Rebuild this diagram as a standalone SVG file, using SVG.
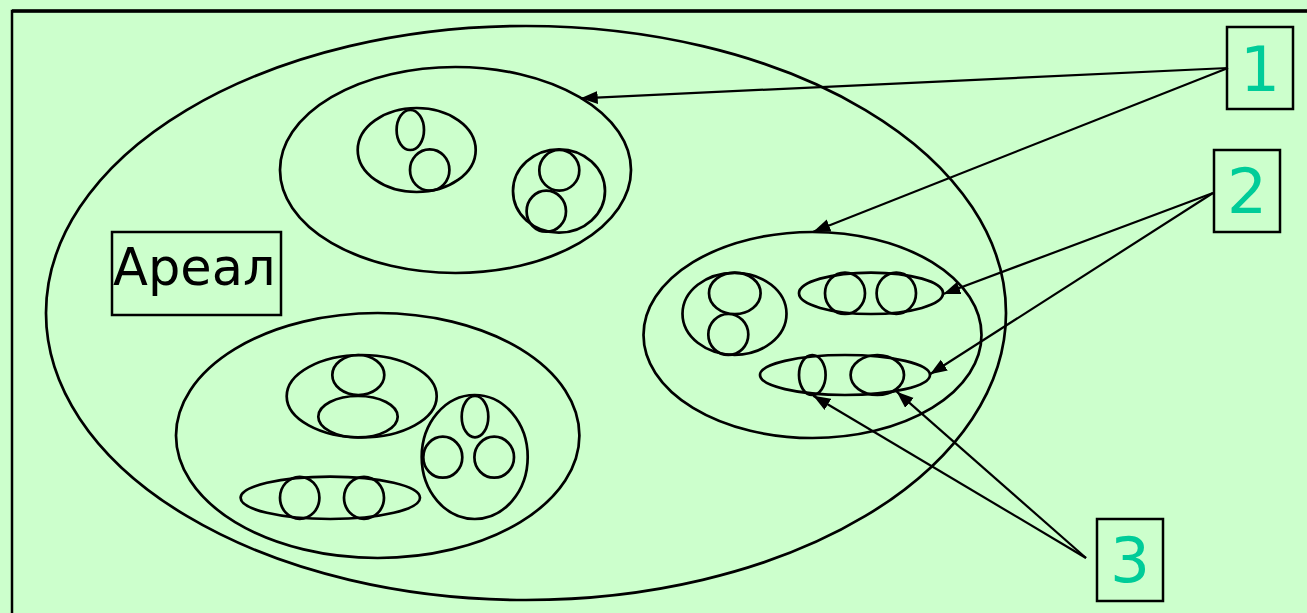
<svg xmlns="http://www.w3.org/2000/svg" width="1307" height="613" viewBox="0 0 1307 613">
<style>
.s{fill:none;stroke:#000;stroke-width:2.7}
.c{fill:none;stroke:#000;stroke-width:2.2}
.lbl{fill:#00CC99;font-family:"DejaVu Sans",sans-serif;font-size:63px;text-anchor:middle}
.box{fill:none;stroke:#000;stroke-width:2.5}
</style>
<defs>
<marker id="ah" markerUnits="userSpaceOnUse" markerWidth="20" markerHeight="14" refX="17" refY="6.5" orient="auto">
<path d="M0,0 L17,6.5 L0,13 Z" fill="#000"/>
</marker>
</defs>
<rect x="0" y="0" width="1307" height="613" fill="#CCFFCC"/>
<rect x="12" y="11" width="1320" height="620" fill="none" stroke="#000" stroke-width="2.5"/>
<line x1="12" y1="11" x2="1307" y2="11" stroke="#000" stroke-width="3.5"/>
<g id="areal-ellipse">
<ellipse class="s" cx="526" cy="313" rx="480" ry="287"/>
</g>
<g id="areal-label">
<rect class="box" x="112" y="232" width="169" height="83"/>
<text x="113" y="285" font-family="DejaVu Sans,sans-serif" font-size="51" fill="#000">Ареал</text>
</g>
<g id="pop-top">
<ellipse class="s" cx="455.5" cy="170" rx="175.5" ry="103"/>
<ellipse class="s" cx="416.7" cy="150" rx="59" ry="42"/>
<ellipse class="s" cx="410.3" cy="130" rx="13.7" ry="20"/>
<ellipse class="s" cx="429.7" cy="170" rx="19.7" ry="20.7"/>
<ellipse class="s" cx="559" cy="191" rx="46" ry="41.7"/>
<ellipse class="s" cx="559.3" cy="170.3" rx="20" ry="20.3"/>
<ellipse class="s" cx="546.3" cy="211.2" rx="19.7" ry="20.5"/>
</g>
<g id="pop-right">
<ellipse class="s" cx="812.5" cy="335" rx="169" ry="103"/>
<ellipse class="s" cx="734.5" cy="313.8" rx="52" ry="41"/>
<ellipse class="s" cx="734.8" cy="293.3" rx="25.8" ry="20.7"/>
<ellipse class="s" cx="728.3" cy="334.5" rx="20" ry="20.5"/>
<ellipse class="s" cx="871" cy="293.3" rx="72" ry="20.7"/>
<ellipse class="s" cx="845" cy="293.3" rx="20" ry="20.7"/>
<ellipse class="s" cx="896.3" cy="293.3" rx="19.7" ry="20.7"/>
<ellipse class="s" cx="845" cy="375" rx="85" ry="20"/>
<ellipse class="s" cx="812.3" cy="375" rx="13.3" ry="20"/>
<ellipse class="s" cx="877.3" cy="375" rx="26.7" ry="20"/>
</g>
<g id="pop-bottom">
<ellipse class="s" cx="377.7" cy="435.5" rx="201.7" ry="122.5"/>
<ellipse class="s" cx="361.7" cy="396.2" rx="75" ry="41.2"/>
<ellipse class="s" cx="358.3" cy="375" rx="26" ry="20"/>
<ellipse class="s" cx="358" cy="416.7" rx="39.7" ry="20.7"/>
<ellipse class="s" cx="474.7" cy="457" rx="53" ry="62"/>
<ellipse class="s" cx="475" cy="416.7" rx="13.3" ry="20.7"/>
<ellipse class="s" cx="442.8" cy="457.2" rx="19.5" ry="20.5"/>
<ellipse class="s" cx="494.2" cy="457.2" rx="19.8" ry="20.5"/>
<ellipse class="s" cx="330.3" cy="497.8" rx="89.7" ry="21.2"/>
<ellipse class="s" cx="299.7" cy="497.8" rx="19.7" ry="21"/>
<ellipse class="s" cx="364" cy="497.8" rx="20" ry="21"/>
</g>
<g id="label-1">
<rect class="box" x="1227" y="27" width="66" height="82"/>
<text class="lbl" x="1260" y="91">1</text>
</g>
<g id="label-2">
<rect class="box" x="1214" y="150" width="66" height="82"/>
<text class="lbl" x="1247" y="213">2</text>
</g>
<g id="label-3">
<rect class="box" x="1097" y="519" width="66" height="82"/>
<text class="lbl" x="1130" y="582">3</text>
</g>
<g id="connectors">
<line class="c" x1="1228" y1="68" x2="580.7" y2="98.3" marker-end="url(#ah)"/>
<line class="c" x1="1228" y1="68" x2="813.3" y2="231.7" marker-end="url(#ah)"/>
<line class="c" x1="1213" y1="193" x2="943.3" y2="294" marker-end="url(#ah)"/>
<line class="c" x1="1213" y1="193" x2="930" y2="374.3" marker-end="url(#ah)"/>
<line class="c" x1="1086" y1="558" x2="813.3" y2="395.7" marker-end="url(#ah)"/>
<line class="c" x1="1086" y1="558" x2="896.7" y2="391.7" marker-end="url(#ah)"/>
</g>
</svg>
